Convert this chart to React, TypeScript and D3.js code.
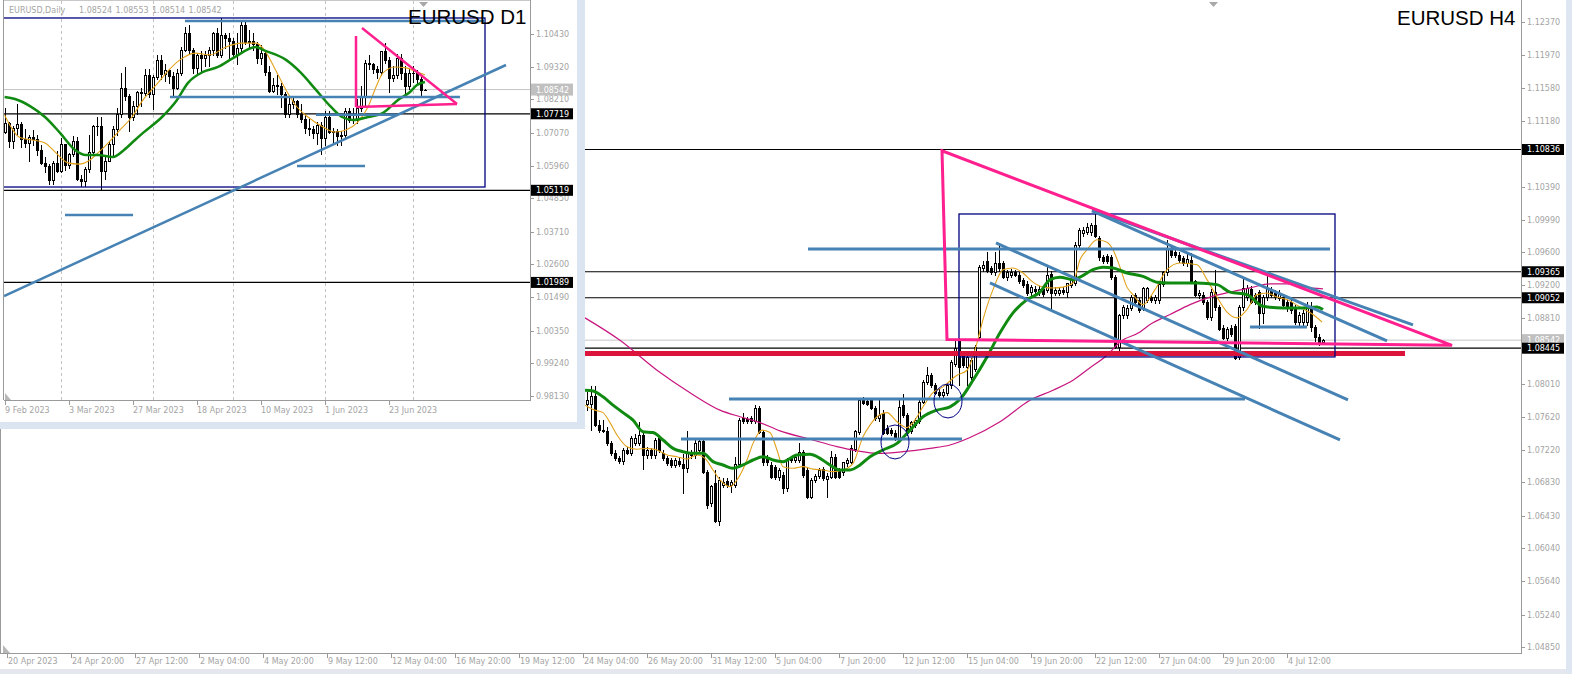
import React from 'react';
import * as d3 from 'd3';

type Bar = [number, number, number, number]; // open, high, low, close
type Pt = [number, number]; // bar index, price

// ---------------- H4 data (k = 0 is 24 May 08:00) ----------------
const h4Bars: Bar[] = [
  [1.0777,1.0792,1.0770,1.0782],[1.0777,1.0799,1.0746,1.0787],[1.0787,1.0799,1.0751,1.0752],[1.0752,1.0758,1.0744,1.0746],
  [1.0746,1.0758,1.0744,1.0745],[1.0745,1.0750,1.0728,1.0730],[1.0730,1.0733,1.0716,1.0719],[1.0719,1.0722,1.0710,1.0713],
  [1.0713,1.0715,1.0706,1.0709],[1.0709,1.0724,1.0705,1.0722],[1.0722,1.0726,1.0717,1.0719],[1.0719,1.0739,1.0716,1.0737],
  [1.0731,1.0741,1.0728,1.0737],[1.0730,1.0756,1.0728,1.0740],[1.0740,1.0743,1.0699,1.0716],[1.0716,1.0726,1.0713,1.0722],
  [1.0722,1.0725,1.0713,1.0716],[1.0716,1.0737,1.0713,1.0734],[1.0736,1.0740,1.0720,1.0722],[1.0719,1.0722,1.0710,1.0712],
  [1.0712,1.0715,1.0704,1.0706],[1.0710,1.0713,1.0701,1.0704],[1.0704,1.0713,1.0701,1.0710],[1.0709,1.0712,1.0703,1.0705],
  [1.0705,1.0717,1.0670,1.0700],[1.0700,1.0745,1.0695,1.0719],[1.0719,1.0722,1.0713,1.0716],[1.0716,1.0734,1.0713,1.0731],
  [1.0722,1.0736,1.0719,1.0733],[1.0733,1.0737,1.0694,1.0696],[1.0696,1.0698,1.0652,1.0656],[1.0658,1.0680,1.0655,1.0679],
  [1.0682,1.0698,1.0636,1.0637],[1.0637,1.0690,1.0632,1.0686],[1.0680,1.0688,1.0677,1.0684],[1.0685,1.0688,1.0678,1.0680],
  [1.0680,1.0686,1.0671,1.0683],[1.0680,1.0714,1.0678,1.0705],[1.0705,1.0761,1.0702,1.0758],[1.0761,1.0767,1.0755,1.0757],
  [1.0759,1.0762,1.0754,1.0757],[1.0760,1.0763,1.0755,1.0757],[1.0757,1.0776,1.0755,1.0772],[1.0772,1.0775,1.0742,1.0744],
  [1.0744,1.0746,1.0704,1.0707],[1.0712,1.0716,1.0704,1.0707],[1.0704,1.0707,1.0688,1.0689],[1.0701,1.0704,1.0687,1.0689],
  [1.0689,1.0700,1.0686,1.0698],[1.0692,1.0695,1.0670,1.0676],[1.0676,1.0712,1.0673,1.0710],[1.0712,1.0715,1.0707,1.0710],
  [1.0710,1.0717,1.0707,1.0714],[1.0710,1.0731,1.0708,1.0720],[1.0720,1.0722,1.0690,1.0692],[1.0698,1.0700,1.0664,1.0666],
  [1.0666,1.0688,1.0664,1.0686],[1.0686,1.0693,1.0683,1.0691],[1.0691,1.0700,1.0688,1.0698],[1.0699,1.0702,1.0686,1.0688],
  [1.0687,1.0694,1.0665,1.0691],[1.0690,1.0721,1.0688,1.0714],[1.0714,1.0717,1.0688,1.0690],[1.0698,1.0700,1.0688,1.0690],
  [1.0695,1.0708,1.0692,1.0707],[1.0706,1.0713,1.0703,1.0710],[1.0708,1.0728,1.0706,1.0725],[1.0723,1.0746,1.0721,1.0745],
  [1.0744,1.0785,1.0741,1.0782],[1.0782,1.0786,1.0777,1.0778],[1.0781,1.0784,1.0776,1.0777],[1.0782,1.0785,1.0771,1.0772],
  [1.0772,1.0775,1.0758,1.0760],[1.0760,1.0782,1.0757,1.0764],[1.0767,1.0770,1.0741,1.0743],[1.0749,1.0752,1.0741,1.0743],
  [1.0746,1.0749,1.0740,1.0743],[1.0743,1.0746,1.0734,1.0737],[1.0737,1.0782,1.0734,1.0774],[1.0776,1.0790,1.0762,1.0764],
  [1.0764,1.0767,1.0740,1.0743],[1.0745,1.0757,1.0742,1.0756],[1.0752,1.0760,1.0750,1.0758],[1.0757,1.0783,1.0755,1.0780],
  [1.0780,1.0806,1.0778,1.0804],[1.0804,1.0822,1.0801,1.0812],[1.0812,1.0815,1.0798,1.0800],[1.0800,1.0803,1.0789,1.0791],
  [1.0792,1.0795,1.0786,1.0788],[1.0788,1.0795,1.0785,1.0792],[1.0791,1.0803,1.0788,1.0800],[1.0800,1.0830,1.0797,1.0828],
  [1.0826,1.0856,1.0823,1.0845],[1.0854,1.0857,1.0800,1.0822],[1.0838,1.0841,1.0822,1.0824],[1.0822,1.0838,1.0800,1.0834],
  [1.0810,1.0833,1.0807,1.0830],[1.0820,1.0848,1.0817,1.0846],[1.0858,1.0945,1.0855,1.0942],[1.0941,1.0950,1.0938,1.0945],
  [1.0950,1.0960,1.0936,1.0938],[1.0941,1.0943,1.0934,1.0936],[1.0936,1.0960,1.0933,1.0947],[1.0947,1.0969,1.0938,1.0941],
  [1.0947,1.0950,1.0929,1.0930],[1.0930,1.0939,1.0927,1.0936],[1.0933,1.0940,1.0930,1.0936],[1.0936,1.0939,1.0931,1.0933],
  [1.0933,1.0936,1.0923,1.0925],[1.0926,1.0929,1.0918,1.0921],[1.0922,1.0925,1.0908,1.0911],[1.0912,1.0920,1.0909,1.0918],
  [1.0916,1.0919,1.0911,1.0913],[1.0912,1.0919,1.0909,1.0916],[1.0916,1.0919,1.0907,1.0910],[1.0915,1.0945,1.0912,1.0933],
  [1.0934,1.0937,1.0890,1.0911],[1.0911,1.0918,1.0908,1.0915],[1.0911,1.0918,1.0908,1.0915],[1.0915,1.0918,1.0910,1.0912],
  [1.0912,1.0923,1.0906,1.0923],[1.0921,1.0930,1.0918,1.0927],[1.0923,1.0972,1.0920,1.0969],[1.0969,1.0989,1.0966,1.0987],
  [1.0983,1.0990,1.0980,1.0987],[1.0984,1.0995,1.0982,1.0990],[1.0984,1.0995,1.0981,1.0993],[1.0993,1.1010,1.0978,1.0980],
  [1.0977,1.0980,1.0951,1.0954],[1.0954,1.0957,1.0947,1.0950],[1.0955,1.0958,1.0947,1.0950],[1.0954,1.0957,1.0928,1.0930],
  [1.0930,1.0932,1.0845,1.0846],[1.0846,1.0886,1.0842,1.0884],[1.0884,1.0896,1.0881,1.0894],[1.0884,1.0896,1.0881,1.0893],
  [1.0893,1.0908,1.0890,1.0906],[1.0908,1.0911,1.0897,1.0900],[1.0902,1.0905,1.0888,1.0890],[1.0893,1.0918,1.0890,1.0917],
  [1.0903,1.0918,1.0900,1.0917],[1.0906,1.0909,1.0900,1.0902],[1.0902,1.0909,1.0899,1.0906],[1.0902,1.0924,1.0899,1.0922],
  [1.0922,1.0937,1.0919,1.0936],[1.0936,1.0975,1.0933,1.0965],[1.0965,1.0968,1.0954,1.0957],[1.0960,1.0963,1.0954,1.0957],
  [1.0957,1.0960,1.0948,1.0951],[1.0953,1.0956,1.0945,1.0947],[1.0947,1.0960,1.0944,1.0952],[1.0951,1.0959,1.0924,1.0925],
  [1.0925,1.0927,1.0907,1.0909],[1.0909,1.0914,1.0905,1.0911],[1.0909,1.0912,1.0898,1.0900],[1.0900,1.0903,1.0880,1.0882],
  [1.0882,1.0916,1.0879,1.0912],[1.0912,1.0939,1.0891,1.0894],[1.0894,1.0897,1.0866,1.0868],[1.0869,1.0872,1.0855,1.0857],
  [1.0857,1.0870,1.0854,1.0868],[1.0869,1.0872,1.0859,1.0862],[1.0871,1.0874,1.0831,1.0833],[1.0834,1.0896,1.0831,1.0894],
  [1.0894,1.0929,1.0891,1.0917],[1.0906,1.0920,1.0903,1.0917],[1.0916,1.0919,1.0899,1.0900],[1.0908,1.0911,1.0898,1.0900],
  [1.0912,1.0915,1.0869,1.0887],[1.0887,1.0909,1.0875,1.0906],[1.0906,1.0933,1.0903,1.0916],[1.0915,1.0918,1.0906,1.0909],
  [1.0911,1.0914,1.0904,1.0906],[1.0905,1.0914,1.0902,1.0911],[1.0906,1.0909,1.0894,1.0896],[1.0900,1.0903,1.0889,1.0893],
  [1.0900,1.0903,1.0887,1.0890],[1.0894,1.0897,1.0874,1.0876],[1.0876,1.0888,1.0873,1.0884],[1.0876,1.0890,1.0873,1.0887],
  [1.0876,1.0900,1.0873,1.0894],[1.0894,1.0900,1.0865,1.0870],[1.0870,1.0872,1.0853,1.0858],[1.0858,1.0861,1.0848,1.0852],
  [1.08524,1.08553,1.08514,1.08542],
];

const h4MaSlow: Pt[] = [
  [-0.5,1.0881],[8.25,1.0854],[17.5,1.0818],[25.75,1.0791],[33.25,1.0770],[38.25,1.0762],[43.25,1.0755],[48.25,1.0745],
  [55.75,1.0735],[62.5,1.0726],[67.5,1.0721],[72.5,1.0718],[79,1.0720],[85.75,1.0724],[90.75,1.0728],[95.75,1.0737],
  [103.25,1.0756],[110.75,1.0782],[116.5,1.0794],[121.5,1.0806],[125.75,1.0821],[130,1.0836],[133.25,1.0852],[138.25,1.0864],
  [140.75,1.0873],[145.75,1.0885],[150.75,1.0897],[155.75,1.0906],[160.75,1.0912],[165.75,1.0917],[170.75,1.0922],[175.75,1.0922],
  [179.5,1.0918],[184,1.0916],
];
const h4MaMid: Pt[] = [
  [-0.5,1.0794],[1.5,1.0793],[4,1.0786],[6.5,1.0776],[9,1.0767],[11.5,1.0758],[14,1.0744],[16.5,1.0743],[19,1.0734],
  [21.5,1.0724],[24,1.0720],[26.5,1.0718],[29,1.0718],[31.5,1.0708],[34,1.0704],[36.5,1.0700],[39,1.0704],[41.5,1.0710],
  [44,1.0714],[46.5,1.0710],[49,1.0708],[52.5,1.0716],[55.75,1.0717],[58.25,1.0712],[60.75,1.0704],[63.25,1.0698],
  [65.75,1.0698],[68.25,1.0704],[70.75,1.0714],[74,1.0722],[77.5,1.0730],[80.75,1.0746],[84,1.0762],[87.5,1.0770],
  [90.75,1.0774],[93.25,1.0783],[96.5,1.0806],[100,1.0834],[103.25,1.0863],[106.5,1.0887],[110,1.0903],[113.25,1.0912],
  [115.75,1.0927],[118.25,1.0930],[121.5,1.0927],[123.25,1.0930],[126.5,1.0939],[129,1.0942],[131.5,1.0941],[135,1.0935],
  [139,1.0931],[142.5,1.0924],[145.75,1.0923],[152.5,1.0923],[157.5,1.0921],[160.75,1.0912],[165,1.0909],[169,1.0895],
  [174,1.0893],[179,1.0893],[182.5,1.0894],[184,1.0891],
];
const h4MaFast: Pt[] = [
  [-0.5,1.0776],[2,1.0770],[4,1.0767],[5.75,1.0755],[7.5,1.0740],[10,1.0726],[12.5,1.0723],[15,1.0724],[17.5,1.0722],
  [20,1.0716],[22.5,1.0714],[25,1.0711],[27.5,1.0716],[29.5,1.0712],[31.5,1.0698],[33.25,1.0686],[35.75,1.0678],[37.5,1.0686],
  [40,1.0710],[41.5,1.0730],[43.75,1.0746],[45.75,1.0743],[47.5,1.0722],[49,1.0702],[51.5,1.0700],[54,1.0702],[56.5,1.0699],
  [59,1.0698],[61.5,1.0696],[64,1.0698],[66.5,1.0706],[69,1.0738],[70.75,1.0752],[72.5,1.0762],[75,1.0767],[77.5,1.0756],
  [80,1.0749],[81.5,1.0755],[84,1.0774],[86.5,1.0791],[89,1.0798],[92.5,1.0812],[95,1.0818],[97.5,1.0851],[99,1.0879],
  [101.5,1.0915],[104,1.0939],[106.5,1.0941],[109,1.0935],[111.5,1.0924],[114,1.0918],[116.5,1.0917],[119,1.0918],
  [121.5,1.0923],[123.25,1.0951],[125,1.0963],[127.5,1.0975],[130,1.0972],[131.5,1.0963],[133.25,1.0942],[135,1.0918],
  [136.5,1.0909],[139,1.0897],[142,1.0915],[145,1.0939],[148.25,1.0947],[152.5,1.0945],[155,1.0927],[157.5,1.0906],
  [160,1.0888],[162.5,1.0881],[165,1.0891],[167.5,1.0909],[170,1.0911],[172.5,1.0906],[175,1.0903],[178.25,1.0894],
  [181.5,1.0885],[183.75,1.0876],
];

// price-axis ticks; the labels of 1.1078 and 1.0842 sit under the level boxes, so only their tick marks show
const h4PriceTicks = [1.1237,1.1197,1.1158,1.1118,1.1078,1.1039,1.0999,1.0960,1.0920,1.0881,1.0842,1.0801,1.0762,1.0722,1.0683,1.0643,1.0604,1.0564,1.0524,1.0485];
const h4HiddenTickLabels = [1.1078, 1.0842];
const h4Levels = [1.10836, 1.09365, 1.09052, 1.08445];
const h4LastPrice = 1.08542;
const h4DateLabels: [number, string][] = [
  [-145,'20 Apr 2023'],[-129,'24 Apr 20:00'],[-113,'27 Apr 12:00'],[-97,'2 May 04:00'],[-81,'4 May 20:00'],
  [-65,'9 May 12:00'],[-49,'12 May 04:00'],[-33,'16 May 20:00'],[-17,'19 May 12:00'],[-1,'24 May 04:00'],
  [15,'26 May 20:00'],[31,'31 May 12:00'],[47,'5 Jun 04:00'],[63,'7 Jun 20:00'],[79,'12 Jun 12:00'],
  [95,'15 Jun 04:00'],[111,'19 Jun 20:00'],[127,'22 Jun 12:00'],[143,'27 Jun 04:00'],[159,'29 Jun 20:00'],[175,'4 Jul 12:00'],
];
// H4 drawn objects
const h4Triangle: Pt[] = [[88.75,1.1082],[90,1.0855],[216.25,1.0848]];
const h4Box = [93, 1.1006, 187, 1.0834];
const h4BlueLines: [number,number,number,number][] = [
  [55.25,1.09639,185.75,1.09639],[35.5,1.07834,164.5,1.07834],[23.5,1.07353,93.75,1.07353],[165.75,1.08701,180,1.08701],
  [126.25,1.10108,206.5,1.08725],[126.25,1.10096,200,1.08532],[102.25,1.09711,190.25,1.07822],[100.75,1.09230,188.25,1.07341],
];
const h4Support = [-10, 1.08382, 204.5];
const h4Circles: [number, number][] = [[77,1.07317],[90.25,1.07810]];

// ---------------- D1 data (i = 0 is 9 Feb 2023) ----------------
const d1Bars: Bar[] = [
  [1.0710,1.0790,1.0705,1.0740],[1.0740,1.0745,1.0660,1.0680],[1.0680,1.0730,1.0655,1.0723],[1.0723,1.0805,1.0700,1.0738],
  [1.0738,1.0745,1.0660,1.0687],[1.0687,1.0720,1.0660,1.0674],[1.0674,1.0700,1.0612,1.0694],[1.0694,1.0716,1.0665,1.0686],
  [1.0686,1.0700,1.0633,1.0650],[1.0650,1.0665,1.0600,1.0606],[1.0606,1.0625,1.0575,1.0595],[1.0595,1.0600,1.0535,1.0546],
  [1.0546,1.0613,1.0533,1.0606],[1.0606,1.0645,1.0575,1.0576],[1.0576,1.0690,1.0575,1.0668],[1.0668,1.0670,1.0580,1.0597],
  [1.0597,1.0640,1.0587,1.0635],[1.0635,1.0695,1.0630,1.0680],[1.0680,1.0694,1.0547,1.0549],[1.0549,1.0565,1.0525,1.0545],
  [1.0545,1.0590,1.0525,1.0583],[1.0583,1.0700,1.0575,1.0643],[1.0643,1.0735,1.0640,1.0730],[1.0730,1.0760,1.0700,1.0731],
  [1.0731,1.0760,1.0516,1.0577],[1.0577,1.0633,1.0550,1.0611],[1.0611,1.0680,1.0610,1.0669],[1.0669,1.0730,1.0630,1.0719],
  [1.0719,1.0790,1.0700,1.0770],[1.0770,1.0910,1.0760,1.0858],[1.0858,1.0930,1.0820,1.0831],[1.0831,1.0840,1.0714,1.0760],
  [1.0760,1.0815,1.0750,1.0800],[1.0800,1.0850,1.0770,1.0845],[1.0845,1.0860,1.0800,1.0843],[1.0843,1.0925,1.0835,1.0905],
  [1.0905,1.0925,1.0830,1.0839],[1.0839,1.0905,1.0788,1.0898],[1.0898,1.0973,1.0890,1.0955],[1.0955,1.0970,1.0890,1.0906],
  [1.0906,1.0940,1.0885,1.0920],[1.0920,1.0925,1.0875,1.0900],[1.0900,1.0915,1.0830,1.0860],[1.0860,1.0925,1.0855,1.0910],
  [1.0910,1.0998,1.0905,1.0990],[1.0990,1.1067,1.0985,1.1045],[1.1045,1.1075,1.0975,1.0990],[1.0990,1.0995,1.0910,1.0926],
  [1.0926,1.0978,1.0910,1.0970],[1.0970,1.0985,1.0915,1.0960],[1.0960,1.0985,1.0935,1.0970],[1.0970,1.1000,1.0935,1.0990],
  [1.0990,1.1050,1.0970,1.1045],[1.1045,1.1065,1.0965,1.0970],[1.0970,1.1096,1.0965,1.1040],[1.1040,1.1045,1.0995,1.1030],
  [1.1030,1.1045,1.0960,1.1020],[1.1020,1.1030,1.0965,1.0975],[1.0975,1.1045,1.0942,1.0995],[1.0995,1.1092,1.0985,1.1075],
  [1.1075,1.1090,1.1010,1.1015],[1.1015,1.1055,1.0995,1.1020],[1.1020,1.1045,1.0990,1.1010],[1.1010,1.1015,1.0945,1.0960],
  [1.0960,1.1005,1.0940,1.0980],[1.0980,1.0985,1.0905,1.0915],[1.0915,1.0935,1.0845,1.0850],[1.0850,1.0895,1.0845,1.0870],
  [1.0870,1.0905,1.0840,1.0865],[1.0865,1.0875,1.0795,1.0840],[1.0840,1.0845,1.0760,1.0770],[1.0770,1.0830,1.0760,1.0805],
  [1.0805,1.0830,1.0790,1.0815],[1.0815,1.0820,1.0760,1.0770],[1.0770,1.0805,1.0745,1.0755],[1.0755,1.0770,1.0705,1.0725],
  [1.0725,1.0755,1.0700,1.0720],[1.0720,1.0730,1.0690,1.0705],[1.0705,1.0745,1.0670,1.0735],[1.0735,1.0745,1.0635,1.0690],
  [1.0690,1.0780,1.0665,1.0760],[1.0760,1.0780,1.0705,1.0710],[1.0710,1.0725,1.0675,1.0715],[1.0715,1.0720,1.0665,1.0695],
  [1.0695,1.0712,1.0665,1.0700],[1.0700,1.0790,1.0690,1.0780],[1.0780,1.0790,1.0745,1.0750],[1.0750,1.0790,1.0740,1.0752],
  [1.0752,1.0823,1.0740,1.0790],[1.0790,1.0865,1.0780,1.0830],[1.0830,1.0955,1.0795,1.0945],[1.0945,1.0970,1.0925,1.0940],
  [1.0940,1.0945,1.0910,1.0925],[1.0925,1.0935,1.0895,1.0915],[1.0915,1.0985,1.0905,1.0985],[1.0985,1.1012,1.0945,1.0955],
  [1.0955,1.0965,1.0845,1.0895],[1.0895,1.0935,1.0885,1.0905],[1.0905,1.0975,1.0895,1.0960],[1.0960,1.0975,1.0890,1.0910],
  [1.0910,1.0935,1.0835,1.0865],[1.0865,1.0925,1.0855,1.0910],[1.0910,1.0935,1.0880,1.0912],[1.0912,1.0920,1.0870,1.0890],
  [1.0890,1.0905,1.0834,1.0852],[1.08524,1.08553,1.08514,1.08542],
];
const d1MaSlow: Pt[] = [
  [-0.1,1.0829],[2.5,1.0822],[6.25,1.0798],[10,1.0761],[13.75,1.0707],[17.5,1.0649],[20.25,1.0632],[23.25,1.0632],[27,1.0625],
  [29.75,1.0649],[32.5,1.0683],[34.5,1.0707],[39.25,1.0761],[43,1.0819],[45.75,1.0877],[49.5,1.0914],[53.25,1.0931],
  [57,1.0961],[62.75,1.0999],[64.5,1.0989],[70.25,1.0955],[74,1.0911],[77.75,1.0853],[81.5,1.0795],[84.25,1.0761],
  [87,1.0751],[90.75,1.0761],[94.5,1.0775],[98.25,1.0819],[101.25,1.0846],[103,1.0870],[105,1.0880],
];
const d1MaFast: Pt[] = [
  [-0.1,1.0768],[1.5,1.0727],[3.5,1.0693],[10,1.0673],[12.75,1.0639],[15.75,1.0605],[18.5,1.0601],[21.25,1.0615],[23.25,1.0639],
  [26,1.0676],[28.75,1.0717],[31.75,1.0761],[34.5,1.0819],[38.25,1.0877],[41,1.0921],[43.75,1.0955],[47.5,1.0978],
  [51.25,1.0972],[55.25,1.0999],[59,1.1012],[62.75,1.1012],[64.5,1.0995],[67.25,1.0931],[70.25,1.0853],[73,1.0795],
  [75.75,1.0761],[79.5,1.0727],[82.5,1.0710],[85.25,1.0717],[88,1.0741],[90.75,1.0795],[92.75,1.0863],[94.5,1.0911],
  [97.5,1.0931],[100.25,1.0928],[103,1.0914],[105,1.0904],
];
const d1PriceTicks = [1.1043,1.0932,1.0821,1.0707,1.0596,1.0485,1.0371,1.0260,1.0149,1.0035,0.9924,0.9813];
const d1Levels = [1.07719, 1.05119, 1.01989];
const d1LastPrice = 1.08542;
const d1Header = ['EURUSD,Daily'];
const d1HeaderQuote = [1.08524, 1.08553, 1.08514, 1.08542];
const d1DateLabels: [number, string][] = [
  [0,'9 Feb 2023'],[16,'3 Mar 2023'],[32,'27 Mar 2023'],[48,'18 Apr 2023'],[64,'10 May 2023'],[80,'1 Jun 2023'],[96,'23 Jun 2023'],
];
const d1MonthStarts = [14, 37, 57, 80, 102];
const d1Box = [-10, 1.10974, 120, 1.05231];
const d1BlueLines: [number,number,number,number][] = [
  [45,1.10872,120,1.10872],[41.25,1.08289,113.75,1.08289],[77.75,1.07690,98,1.07690],
  [-0.25,1.01527,125.25,1.09377],[15,1.04280,32,1.04280],[73,1.05945,90,1.05945],
];
const d1PinkLines: [number,number,number,number][] = [
  [87.75,1.10362,87.75,1.07949],[87.75,1.07949,113,1.08051],[89.25,1.10634,113,1.08051],
];

const FONT = '"DejaVu Sans", Tahoma, sans-serif';
const AXIS_TXT = '#a4a4a4';
const STEEL = '#4682b4';
const PINK = '#ff1f8e';

function fmt(p: number) { return p.toFixed(5); }

function Candles({ bars, x, y }: { bars: Bar[]; x: (i: number) => number; y: (p: number) => number }) {
  return (
    <g shapeRendering="crispEdges">
      {bars.map((b, i) => {
        const [o, h, l, c] = b;
        const xc = Math.round(x(i));
        const top = Math.round(y(Math.max(o, c)));
        const bot = Math.round(y(Math.min(o, c)));
        const bull = c >= o;
        return (
          <g key={i}>
            <line x1={xc + 0.5} x2={xc + 0.5} y1={Math.round(y(h))} y2={Math.round(y(l)) + 1} stroke="#000" strokeWidth={1} />
            {bot - top >= 1 ? (
              <rect x={xc - 0.5} y={top + 0.5} width={2} height={bot - top} fill={bull ? '#fff' : '#000'} stroke="#000" strokeWidth={1} />
            ) : (
              <line x1={xc - 1} x2={xc + 2} y1={top + 0.5} y2={top + 0.5} stroke="#000" strokeWidth={1} />
            )}
          </g>
        );
      })}
    </g>
  );
}

export default function App() {
  const xH = d3.scaleLinear().domain([0, 184]).range([587, 1323]);
  const yH = d3.scaleLinear().domain([1.0485, 1.1237]).range([647, 22]);
  const xD = d3.scaleLinear().domain([0, 105]).range([5, 425]);
  const yD = d3.scaleLinear().domain([0.9813, 1.1043]).range([396, 34]);

  const lineH = d3.line<Pt>().x(d => xH(d[0])).y(d => yH(d[1])).curve(d3.curveMonotoneX);
  const lineD = d3.line<Pt>().x(d => xD(d[0])).y(d => yD(d[1])).curve(d3.curveMonotoneX);

  const H4R = 1521, H4B = 653;
  const D1R = 530, D1B = 400;

  return (
    <svg width={1572} height={674} style={{ position: 'absolute', left: 0, top: 0, display: 'block' }} fontFamily={FONT}>
      <defs>
        <clipPath id="h4clip"><rect x={1} y={0} width={H4R - 1} height={H4B} /></clipPath>
        <clipPath id="d1clip"><rect x={4} y={1} width={D1R - 4} height={D1B - 1} /></clipPath>
      </defs>
      <rect x={0} y={0} width={1572} height={674} fill="#fff" />

      {/* ================= H4 chart ================= */}
      <g clipPath="url(#h4clip)">
        {h4Levels.map((p, i) => (
          <line key={i} x1={0} x2={H4R} y1={yH(p)} y2={yH(p)} stroke="#000" strokeWidth={1.2} />
        ))}
        <line x1={0} x2={H4R} y1={yH(h4LastPrice)} y2={yH(h4LastPrice)} stroke="#c4c4c4" strokeWidth={1} />
        <Candles bars={h4Bars} x={xH} y={yH} />
        <path d={lineH(h4MaSlow) || ''} fill="none" stroke="#c8167f" strokeWidth={1.2} />
        <path d={lineH(h4MaFast) || ''} fill="none" stroke="#e2a21c" strokeWidth={1.1} />
        <path d={lineH(h4MaMid) || ''} fill="none" stroke="#118a11" strokeWidth={3} />
        <line x1={xH(h4Support[0])} x2={xH(h4Support[2])} y1={yH(h4Support[1])} y2={yH(h4Support[1])} stroke="#dc143c" strokeWidth={5} />
        <rect x={xH(h4Box[0])} y={yH(h4Box[1])} width={xH(h4Box[2]) - xH(h4Box[0])} height={yH(h4Box[3]) - yH(h4Box[1])} fill="none" stroke="#000080" strokeWidth={1.3} />
        {h4BlueLines.map((l, i) => (
          <line key={i} x1={xH(l[0])} y1={yH(l[1])} x2={xH(l[2])} y2={yH(l[3])} stroke={STEEL} strokeWidth={3} />
        ))}
        {h4Circles.map((c, i) => (
          <ellipse key={i} cx={xH(c[0])} cy={yH(c[1])} rx={14} ry={17} fill="none" stroke="#000080" strokeWidth={1} />
        ))}
        <path d={`M${xH(h4Triangle[0][0])},${yH(h4Triangle[0][1])}L${xH(h4Triangle[1][0])},${yH(h4Triangle[1][1])}L${xH(h4Triangle[2][0])},${yH(h4Triangle[2][1])}Z`} fill="none" stroke={PINK} strokeWidth={3} strokeLinejoin="miter" />
      </g>
      {/* H4 axes */}
      <g shapeRendering="crispEdges">
        <line x1={H4R + 0.5} x2={H4R + 0.5} y1={0} y2={H4B + 1} stroke="#9a9a9a" />
        <line x1={0} x2={H4R + 1} y1={H4B + 0.5} y2={H4B + 0.5} stroke="#9a9a9a" />
        <line x1={0.5} x2={0.5} y1={0} y2={H4B} stroke="#9a9a9a" />
        {h4PriceTicks.map((p, i) => (
          <line key={i} x1={H4R} x2={H4R + 4} y1={Math.round(yH(p)) + 0.5} y2={Math.round(yH(p)) + 0.5} stroke="#9a9a9a" />
        ))}
        {h4DateLabels.map(([k], i) => (
          <line key={i} x1={Math.round(xH(k)) + 0.5} x2={Math.round(xH(k)) + 0.5} y1={H4B} y2={H4B + 5} stroke="#9a9a9a" />
        ))}
      </g>
      {h4PriceTicks.filter(p => !h4HiddenTickLabels.includes(p)).map((p, i) => (
        <text key={i} x={1527} y={yH(p) + 3} fontSize={8} fill={AXIS_TXT}>{fmt(p)}</text>
      ))}
      <rect x={1522} y={yH(h4LastPrice) - 6} width={42} height={12} fill="#c0c0c0" />
      <text x={1527} y={yH(h4LastPrice) + 3} fontSize={8} fill="#fff">{fmt(h4LastPrice)}</text>
      {h4Levels.map((p, i) => (
        <g key={i}>
          <rect x={1522} y={yH(p) - 5.5} width={42} height={11} fill="#000" />
          <text x={1527} y={yH(p) + 3} fontSize={8} fill="#fff">{fmt(p)}</text>
        </g>
      ))}
      {h4DateLabels.map(([k, s], i) => (
        <text key={i} x={xH(k) + 1} y={664} fontSize={8} fill={AXIS_TXT}>{s}</text>
      ))}
      <text x={1397} y={25} fontSize={20.5} fontFamily='"Liberation Sans", Arial, sans-serif' fill="#000">EURUSD H4</text>
      <path d="M1209,2L1218,2L1213.5,7Z" fill="#a8a8a8" />
      <path d={`M3,${H4B - 8}L3,${H4B}L10,${H4B}Z`} fill="#b8b8b8" />
      <rect x={1566} y={0} width={6} height={674} fill="#dde6f1" />
      <rect x={0} y={669} width={1566} height={5} fill="#e4e8ee" />

      {/* ================= D1 window ================= */}
      <rect x={0} y={0} width={585} height={429} fill="#dbe5f1" />
      <rect x={0} y={0} width={577} height={422} fill="#fff" />
      <g shapeRendering="crispEdges">
        {d1MonthStarts.map((i, j) => (
          <line key={j} x1={Math.round(xD(i)) + 0.5} x2={Math.round(xD(i)) + 0.5} y1={1} y2={D1B} stroke="#c4c4c4" strokeDasharray="3,3" />
        ))}
      </g>
      <g clipPath="url(#d1clip)">
        {d1Levels.map((p, i) => (
          <line key={i} x1={0} x2={D1R} y1={yD(p)} y2={yD(p)} stroke="#000" strokeWidth={1.2} />
        ))}
        <line x1={0} x2={D1R} y1={yD(d1LastPrice)} y2={yD(d1LastPrice)} stroke="#c4c4c4" strokeWidth={1} />
        <Candles bars={d1Bars} x={xD} y={yD} />
        <path d={lineD(d1MaFast) || ''} fill="none" stroke="#e2a21c" strokeWidth={1.1} />
        <path d={lineD(d1MaSlow) || ''} fill="none" stroke="#118a11" strokeWidth={2.5} />
        <rect x={xD(d1Box[0])} y={yD(d1Box[1])} width={xD(d1Box[2]) - xD(d1Box[0])} height={yD(d1Box[3]) - yD(d1Box[1])} fill="none" stroke="#000080" strokeWidth={1.3} />
        {d1BlueLines.map((l, i) => (
          <line key={i} x1={xD(l[0])} y1={yD(l[1])} x2={xD(l[2])} y2={yD(l[3])} stroke={STEEL} strokeWidth={2.5} />
        ))}
        {d1PinkLines.map((l, i) => (
          <line key={i} x1={xD(l[0])} y1={yD(l[1])} x2={xD(l[2])} y2={yD(l[3])} stroke={PINK} strokeWidth={2.5} />
        ))}
      </g>
      <g shapeRendering="crispEdges">
        <line x1={D1R + 0.5} x2={D1R + 0.5} y1={0} y2={D1B + 1} stroke="#9a9a9a" />
        <line x1={4} x2={D1R + 1} y1={D1B + 0.5} y2={D1B + 0.5} stroke="#9a9a9a" />
        <line x1={3.5} x2={3.5} y1={0} y2={D1B} stroke="#9a9a9a" />
        <line x1={4} x2={D1R} y1={0.5} y2={0.5} stroke="#c8c8c8" />
        {d1PriceTicks.map((p, i) => (
          <line key={i} x1={D1R} x2={D1R + 4} y1={Math.round(yD(p)) + 0.5} y2={Math.round(yD(p)) + 0.5} stroke="#9a9a9a" />
        ))}
        {d1DateLabels.map(([k], i) => (
          <line key={i} x1={Math.round(xD(k)) + 0.5} x2={Math.round(xD(k)) + 0.5} y1={D1B} y2={D1B + 5} stroke="#9a9a9a" />
        ))}
      </g>
      {d1PriceTicks.map((p, i) => (
        <text key={i} x={536} y={yD(p) + 3} fontSize={8} fill={AXIS_TXT}>{fmt(p)}</text>
      ))}
      <rect x={531} y={yD(d1LastPrice) - 6} width={42} height={12} fill="#c0c0c0" />
      <text x={536} y={yD(d1LastPrice) + 3} fontSize={8} fill="#fff">{fmt(d1LastPrice)}</text>
      {d1Levels.map((p, i) => (
        <g key={i}>
          <rect x={531} y={yD(p) - 5.5} width={42} height={11} fill="#000" />
          <text x={536} y={yD(p) + 3} fontSize={8} fill="#fff">{fmt(p)}</text>
        </g>
      ))}
      {d1DateLabels.map(([k, s], i) => (
        <text key={i} x={xD(k)} y={413} fontSize={8} fill={AXIS_TXT}>{s}</text>
      ))}
      <text x={9} y={13} fontSize={8} fill={AXIS_TXT}>{d1Header[0]}</text>
      {d1HeaderQuote.map((p, i) => (
        <text key={i} x={79 + i * 36.5} y={13} fontSize={8} fill={AXIS_TXT}>{fmt(p)}</text>
      ))}
      <text x={408} y={24} fontSize={20.5} fontFamily='"Liberation Sans", Arial, sans-serif' fill="#000">EURUSD D1</text>
      <path d="M419,2L428,2L423.5,7Z" fill="#a8a8a8" />
      <path d={`M5,${D1B - 7}L5,${D1B}L11,${D1B}Z`} fill="#b8b8b8" />
    </svg>
  );
}
